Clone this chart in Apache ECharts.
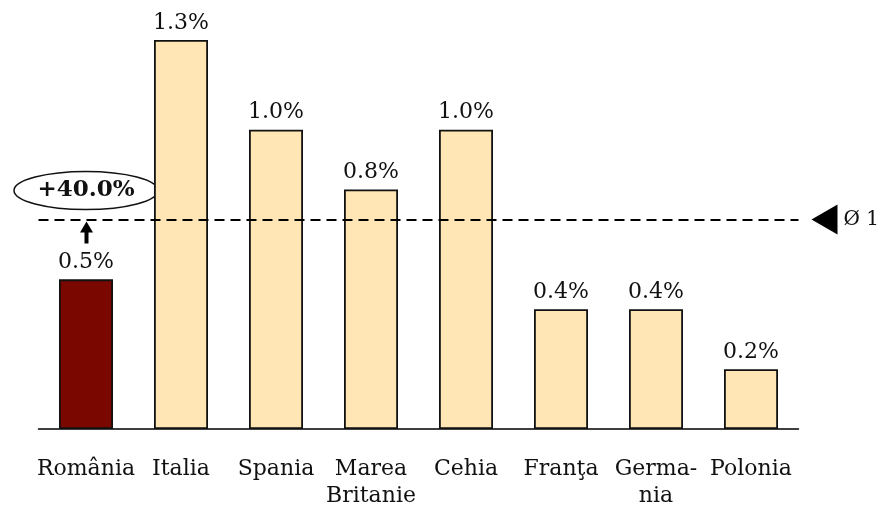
<!DOCTYPE html>
<html>
<head>
<meta charset="utf-8">
<script src="https://cdn.jsdelivr.net/npm/echarts@6/dist/echarts.min.js"></script>
<style>
  html, body { margin: 0; padding: 0; background: #fff; }
  #chart { width: 883px; height: 512px; }
</style>
</head>
<body>
<div id="chart"></div>
<script>
var categories = ['România', 'Italia', 'Spania', 'Marea\nBritanie', 'Cehia', 'Franţa', 'Germa-\nnia', 'Polonia'];
var values = [0.5, 1.3, 1.0, 0.8, 1.0, 0.4, 0.4, 0.2];
var avgValue = 0.7;
var avgLabel = 'Ø 1';
var diffLabel = '+40.0%';

var chart = echarts.init(document.getElementById('chart'));

var barData = values.map(function (v, i) {
    return {
        value: v,
        itemStyle: { color: i === 0 ? '#7B0800' : '#FFE6B4' }
    };
});

chart.setOption({
    animation: false,
    backgroundColor: '#fff',
    grid: { left: 38.5, right: 84.5, top: 10, bottom: 83 },
    xAxis: {
        type: 'category',
        data: categories,
        axisLine: { lineStyle: { color: '#000', width: 1.5 } },
        axisTick: { show: false },
        axisLabel: {
            color: '#111',
            fontFamily: 'DejaVu Serif',
            fontSize: 22,
            lineHeight: 27,
            margin: 27,
            interval: 0
        }
    },
    yAxis: {
        type: 'value',
        min: 0,
        max: 1.4,
        show: false,
        splitLine: { show: false }
    },
    series: [{
        type: 'bar',
        data: barData,
        barWidth: 54,
        itemStyle: { borderColor: '#111', borderWidth: 1.8 },
        label: {
            show: true,
            position: 'top',
            distance: 6,
            color: '#111',
            fontFamily: 'DejaVu Serif',
            fontSize: 22,
            formatter: function (p) { return p.value.toFixed(1) + '%'; }
        },
        markLine: {
            silent: true,
            symbol: 'none',
            label: { show: false },
            lineStyle: { color: '#000', type: [10, 6], width: 1.8 },
            data: [{ yAxis: avgValue }]
        }
    }]
});

// annotations placed from the axis scales
var yAvg = chart.convertToPixel({ yAxisIndex: 0 }, avgValue);
var xFirst = chart.convertToPixel({ xAxisIndex: 0 }, categories[0]);
var xLast = chart.convertToPixel({ xAxisIndex: 0 }, categories[categories.length - 1]);
var band = (xLast - xFirst) / (categories.length - 1);
var xEnd = xLast + band / 2;

chart.setOption({
    graphic: [
        {
            type: 'polygon',
            shape: { points: [[xEnd + 13, yAvg], [xEnd + 39, yAvg - 15], [xEnd + 39, yAvg + 15]] },
            style: { fill: '#000' }
        },
        {
            type: 'text',
            x: xEnd + 45,
            y: yAvg,
            style: {
                text: avgLabel,
                fill: '#111',
                font: '20px "DejaVu Serif"',
                verticalAlign: 'middle'
            }
        },
        {
            type: 'ellipse',
            shape: { cx: xFirst, cy: yAvg - 29, rx: 72, ry: 19 },
            style: { fill: '#fff', stroke: '#111', lineWidth: 1.5 }
        },
        {
            type: 'text',
            x: xFirst,
            y: yAvg - 29,
            style: {
                text: diffLabel,
                fill: '#111',
                font: 'bold 23px "DejaVu Serif"',
                align: 'center',
                verticalAlign: 'middle'
            }
        },
        {
            type: 'polygon',
            shape: { points: [[xFirst + 0.5, yAvg + 2], [xFirst - 6, yAvg + 13], [xFirst + 7, yAvg + 13]] },
            style: { fill: '#000' }
        },
        {
            type: 'rect',
            shape: { x: xFirst - 1.5, y: yAvg + 12, width: 4, height: 12 },
            style: { fill: '#000' }
        }
    ]
});
</script>
</body>
</html>
